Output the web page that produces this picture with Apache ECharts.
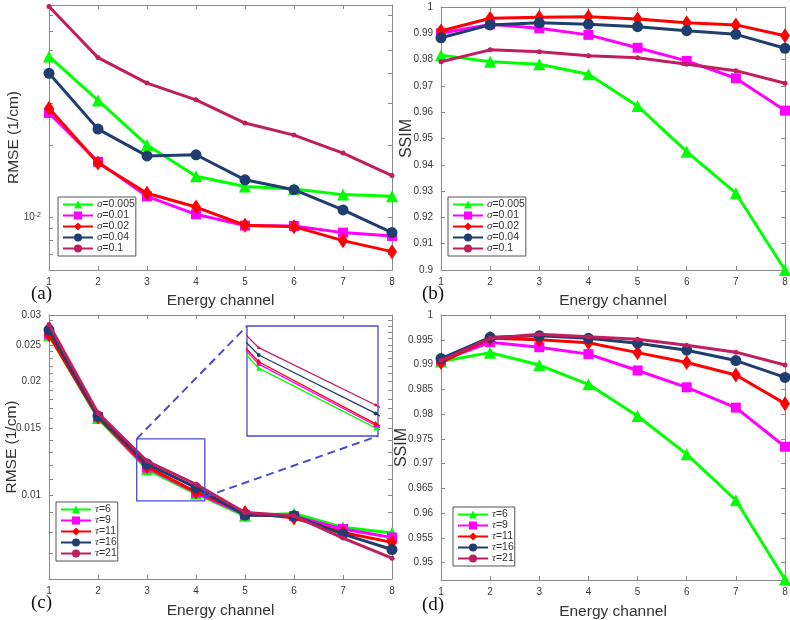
<!DOCTYPE html>
<html><head><meta charset="utf-8">
<script src="https://cdn.jsdelivr.net/npm/echarts@6/dist/echarts.min.js"></script>
<style>html,body{margin:0;padding:0;background:#fff}#c{width:790px;height:620px}</style>
</head><body><div id="c"></div>
<script>
// ---------------- data ----------------
const channels = [1, 2, 3, 4, 5, 6, 7, 8];
const sigmaNames = ['σ=0.005', 'σ=0.01', 'σ=0.02', 'σ=0.04', 'σ=0.1'];
const tauNames = ['τ=6', 'τ=9', 'τ=11', 'τ=16', 'τ=21'];

// (a) RMSE vs sigma
const rmseS005 = [0.0469, 0.0307, 0.0200, 0.0148, 0.0134, 0.0131, 0.0124, 0.0122];
const rmseS01  = [0.0272, 0.0170, 0.0122, 0.01026, 0.0092, 0.00917, 0.0086, 0.00833];
const rmseS02  = [0.0285, 0.0168, 0.01256, 0.0110, 0.00923, 0.00911, 0.00796, 0.00716];
const rmseS04  = [0.0399, 0.0233, 0.0180, 0.0182, 0.0143, 0.0130, 0.0107, 0.0086];
const rmseS1   = [0.0759, 0.0464, 0.0363, 0.0309, 0.0247, 0.0220, 0.0185, 0.0149];
// (b) SSIM vs sigma
const ssimS005 = [0.9817, 0.9792, 0.9782, 0.9744, 0.9624, 0.9450, 0.9292, 0.9000];
const ssimS01  = [0.9900, 0.9934, 0.9919, 0.9894, 0.9845, 0.9795, 0.9729, 0.9606];
const ssimS02  = [0.9909, 0.9957, 0.9961, 0.9963, 0.9954, 0.9940, 0.9932, 0.9891];
const ssimS04  = [0.9883, 0.9932, 0.9940, 0.9934, 0.9925, 0.9910, 0.9896, 0.9843];
const ssimS1   = [0.9792, 0.9837, 0.9830, 0.9815, 0.9807, 0.9782, 0.9758, 0.9710];
// (c) RMSE vs tau
const rmseT6  = [0.0265, 0.0160, 0.01171, 0.0101, 0.00882, 0.00895, 0.00822, 0.00794];
const rmseT9  = [0.0267, 0.0161, 0.01183, 0.01016, 0.00888, 0.00880, 0.00814, 0.00773];
const rmseT11 = [0.0266, 0.0161, 0.0119, 0.0102, 0.0090, 0.0087, 0.00797, 0.0075];
const rmseT16 = [0.0274, 0.0162, 0.0121, 0.01047, 0.00886, 0.00882, 0.00789, 0.00718];
const rmseT21 = [0.0283, 0.0165, 0.01232, 0.01069, 0.0090, 0.00882, 0.0077, 0.00681];
// (d) SSIM vs tau
const ssimT6  = [0.9906, 0.9924, 0.9899, 0.9860, 0.9796, 0.9719, 0.9626, 0.9466];
const ssimT9  = [0.9908, 0.9945, 0.9935, 0.9921, 0.9888, 0.9854, 0.9813, 0.9734];
const ssimT11 = [0.9904, 0.9953, 0.9950, 0.9944, 0.9924, 0.9904, 0.9879, 0.9821];
const ssimT16 = [0.9912, 0.9955, 0.9958, 0.9953, 0.9943, 0.9929, 0.9908, 0.9874];
const ssimT21 = [0.9908, 0.9953, 0.9961, 0.9956, 0.9951, 0.9939, 0.9925, 0.9899];

// ticks
const ticksA = [0.006, 0.007, 0.008, 0.009, 0.01, 0.02, 0.03, 0.04, 0.05, 0.06, 0.07];
const labelsA = [0.01];
const ticksC = [0.006, 0.007, 0.008, 0.009, 0.010, 0.011, 0.012, 0.013, 0.014, 0.015, 0.016, 0.017, 0.018, 0.019,
                0.020, 0.021, 0.022, 0.023, 0.024, 0.025, 0.026, 0.027, 0.028, 0.029, 0.030];
const labelsC = [0.01, 0.015, 0.02, 0.025, 0.03];
const ticksD = [0.95, 0.955, 0.96, 0.965, 0.97, 0.975, 0.98, 0.985, 0.99, 0.995, 1];
// zoom box (data space of panel c) and inset range
const zoomBoxX = [2.79, 4.18];
const zoomBoxY = [0.00966, 0.0141];
const insetX = [2.9, 4.02];
const insetY = [0.0099, 0.013];

// ---------------- styles ----------------
const FONT = 'Liberation Sans';
const axisColor = '#8a8a8a';
const labelColor = '#3a3a3a';
const blue = '#4a4ad6';
const colors = ['#00ff00', '#ff00ff', '#ff0000', '#1f3d6e', '#c01e5e'];
const shapes = ['triangle', 'rect', 'diamond', 'circle', 'circle'];
const sizes = [12, 10, [10, 15], 11, 5];
const smallSizes = [5, 4, [4, 6], 4, 3];

const grids = [
  {left: 49, top: 5, width: 343, height: 265},
  {left: 441, top: 7, width: 344, height: 263},
  {left: 49, top: 315, width: 343, height: 264},
  {left: 441, top: 315, width: 344, height: 265},
  {left: 247, top: 326, width: 131, height: 110, show: true, borderColor: blue, borderWidth: 1.3, backgroundColor: '#fff'}
];
grids.forEach(g => { g.outerBoundsMode = 'none'; g.containLabel = false; });

function lineAx() { return {show: true, onZero: false, lineStyle: {color: axisColor, width: 1}}; }
function tickAx(custom) {
  const t = {show: true, inside: true, length: 4, lineStyle: {color: axisColor, width: 1}};
  if (custom) t.customValues = custom;
  return t;
}
const nameStyle = {fontSize: 15.5, color: '#333', fontFamily: FONT};
const fmt = v => String(Math.round(v * 1000) / 1000);

const xAxis = [];
for (let g = 0; g < 4; g++) {
  xAxis.push({type: 'value', gridIndex: g, position: 'bottom', min: 1, max: 8, interval: 1,
    axisLine: lineAx(), axisTick: tickAx(), splitLine: {show: false},
    axisLabel: {color: labelColor, fontSize: 10, fontFamily: FONT, margin: 7},
    name: 'Energy channel', nameLocation: 'middle', nameGap: g < 2 ? 23 : 24, nameTextStyle: nameStyle});
}
for (let g = 0; g < 4; g++) {
  xAxis.push({type: 'value', gridIndex: g, position: 'top', min: 1, max: 8, interval: 1,
    axisLine: lineAx(), axisTick: tickAx(), splitLine: {show: false}, axisLabel: {show: false}});
}
xAxis.push({type: 'value', gridIndex: 4, min: insetX[0], max: insetX[1], show: false});

const yLabel = {color: labelColor, fontSize: 10, fontFamily: FONT, margin: 8};
const yAxis = [
  {type: 'log', logBase: 10, gridIndex: 0, position: 'left', min: 0.006, max: 0.077,
    axisLine: lineAx(), axisTick: tickAx(ticksA), splitLine: {show: false}, minorTick: {show: false},
    axisLabel: Object.assign({}, yLabel, {customValues: labelsA, formatter: () => '10{s|-2}',
      rich: {s: {fontSize: 7, verticalAlign: 'top', fontFamily: FONT, color: labelColor}}}),
    name: 'RMSE (1/cm)', nameLocation: 'middle', nameGap: 27, nameMoveOverlap: false, nameTextStyle: nameStyle},
  {type: 'value', gridIndex: 1, position: 'left', min: 0.9, max: 1, interval: 0.01,
    axisLine: lineAx(), axisTick: tickAx(), splitLine: {show: false},
    axisLabel: Object.assign({}, yLabel, {formatter: fmt}),
    name: 'SSIM', nameLocation: 'middle', nameGap: 26, nameMoveOverlap: false, nameTextStyle: Object.assign({}, nameStyle, {fontSize: 16})},
  {type: 'log', logBase: 10, gridIndex: 2, position: 'left', min: 0.006, max: 0.03,
    axisLine: lineAx(), axisTick: tickAx(ticksC), splitLine: {show: false}, minorTick: {show: false},
    axisLabel: Object.assign({}, yLabel, {customValues: labelsC, formatter: v => String(+(+v).toPrecision(3))}),
    name: 'RMSE (1/cm)', nameLocation: 'middle', nameGap: 29, nameMoveOverlap: false, nameTextStyle: nameStyle},
  {type: 'value', gridIndex: 3, position: 'left', min: 0.9465, max: 1,
    axisLine: lineAx(), axisTick: tickAx(ticksD), splitLine: {show: false},
    axisLabel: Object.assign({}, yLabel, {customValues: ticksD, formatter: fmt}),
    name: 'SSIM', nameLocation: 'middle', nameGap: 31, nameMoveOverlap: false, nameTextStyle: Object.assign({}, nameStyle, {fontSize: 16})},
  // mirrors on the right
  {type: 'log', logBase: 10, gridIndex: 0, position: 'right', min: 0.006, max: 0.077,
    axisLine: lineAx(), axisTick: tickAx(ticksA), splitLine: {show: false}, axisLabel: {show: false}},
  {type: 'value', gridIndex: 1, position: 'right', min: 0.9, max: 1, interval: 0.01,
    axisLine: lineAx(), axisTick: tickAx(), splitLine: {show: false}, axisLabel: {show: false}},
  {type: 'log', logBase: 10, gridIndex: 2, position: 'right', min: 0.006, max: 0.03,
    axisLine: lineAx(), axisTick: tickAx(ticksC), splitLine: {show: false}, axisLabel: {show: false}},
  {type: 'value', gridIndex: 3, position: 'right', min: 0.9465, max: 1,
    axisLine: lineAx(), axisTick: tickAx(ticksD), splitLine: {show: false}, axisLabel: {show: false}},
  {type: 'log', logBase: 10, gridIndex: 4, min: insetY[0], max: insetY[1], show: false}
];

const series = [];
function addSet(names, datas, xi, yi, lw, small, suffix) {
  names.forEach((n, i) => {
    series.push({
      type: 'line', name: n + (suffix || ''), xAxisIndex: xi, yAxisIndex: yi,
      data: channels.map((c, k) => [c, datas[i][k]]),
      symbol: shapes[i], symbolSize: small ? smallSizes[i] : sizes[i], showSymbol: true, clip: true,
      lineStyle: {color: colors[i], width: lw}, itemStyle: {color: colors[i], borderWidth: 0},
      emphasis: {disabled: true}, animation: false, silent: true, z: 2 + i
    });
  });
}
addSet(sigmaNames, [rmseS005, rmseS01, rmseS02, rmseS04, rmseS1], 0, 0, 3);
addSet(sigmaNames, [ssimS005, ssimS01, ssimS02, ssimS04, ssimS1], 1, 1, 3);
const cSeriesIndex = series.length;
addSet(tauNames, [rmseT6, rmseT9, rmseT11, rmseT16, rmseT21], 2, 2, 3);
addSet(tauNames, [ssimT6, ssimT9, ssimT11, ssimT16, ssimT21], 3, 3, 3);
const insetSeriesIndex = series.length;
addSet(tauNames, [rmseT6, rmseT9, rmseT11, rmseT16, rmseT21], 8, 8, 1.3, true, ' ');

const legendFmt = name => { const p = name.split('='); return '{g|' + p[0] + '}{t|=' + p[1] + '}'; };
function mkLegend(names, left, top) {
  return {data: names, orient: 'vertical', left: left, top: top, itemWidth: 30, itemHeight: 10, itemGap: 0,
    padding: [2, 1, 2, 4], borderColor: '#555', borderWidth: 1, backgroundColor: '#fff',
    selectedMode: false, formatter: legendFmt,
    textStyle: {color: '#333', fontSize: 10.5, fontFamily: FONT, padding: [0, 0, 0, -1],
      rich: {g: {fontFamily: 'Liberation Serif', fontStyle: 'italic', fontSize: 11, lineHeight: 12.4, color: '#333'},
             t: {fontFamily: FONT, fontSize: 10.5, lineHeight: 12.4, color: '#333'}}}};
}

const tStyle = {fontFamily: 'Liberation Serif', fontSize: 19, fontWeight: 'normal', color: '#111'};
const option = {
  backgroundColor: '#fff',
  animation: false,
  title: [
    {text: '(a)', left: 31, top: 285, padding: 0, textStyle: tStyle},
    {text: '(b)', left: 422, top: 285, padding: 0, textStyle: tStyle},
    {text: '(c)', left: 31, top: 594, padding: 0, textStyle: tStyle},
    {text: '(d)', left: 422, top: 596, padding: 0, textStyle: tStyle}
  ],
  grid: grids,
  xAxis: xAxis,
  yAxis: yAxis,
  legend: [mkLegend(sigmaNames, 58, 197), mkLegend(sigmaNames, 448, 197),
           mkLegend(tauNames, 56, 502), mkLegend(tauNames, 453, 507)],
  series: series
};

const chart = echarts.init(document.getElementById('c'), null, {renderer: 'canvas'});
chart.setOption(option);

// zoom box + connectors, placed through the axes' own conversions
const f = {seriesIndex: cSeriesIndex};
const fi = {seriesIndex: insetSeriesIndex};
const tl = chart.convertToPixel(f, [zoomBoxX[0], zoomBoxY[1]]);
const br = chart.convertToPixel(f, [zoomBoxX[1], zoomBoxY[0]]);
const itl = chart.convertToPixel(fi, [insetX[0], insetY[1]]);
const ibr = chart.convertToPixel(fi, [insetX[1], insetY[0]]);
chart.setOption({graphic: [
  {type: 'rect', shape: {x: tl[0], y: tl[1], width: br[0] - tl[0], height: br[1] - tl[1]},
   style: {fill: null, stroke: blue, lineWidth: 1.3}, z: 50, silent: true},
  {type: 'line', shape: {x1: tl[0], y1: tl[1], x2: itl[0], y2: itl[1]},
   style: {stroke: blue, lineWidth: 2, lineDash: [8, 5]}, z: 50, silent: true},
  {type: 'line', shape: {x1: br[0], y1: br[1] - 4, x2: ibr[0], y2: ibr[1]},
   style: {stroke: blue, lineWidth: 2, lineDash: [8, 5]}, z: 50, silent: true}
]});
</script>
</body></html>
